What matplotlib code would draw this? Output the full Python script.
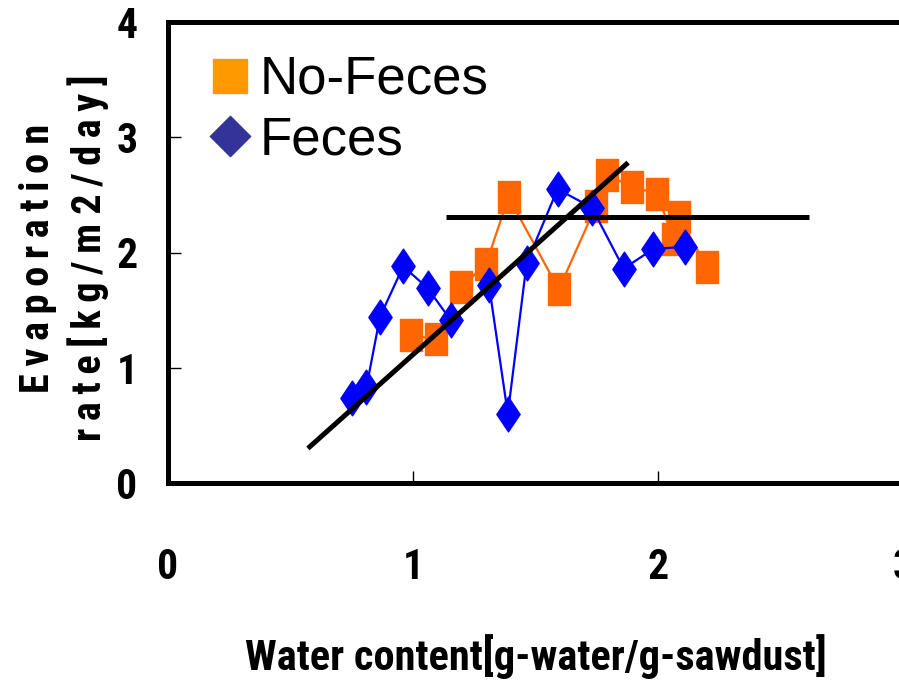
import matplotlib
matplotlib.use("Agg")
import matplotlib.pyplot as plt
from matplotlib.path import Path
from matplotlib.lines import Line2D

plt.rcParams['font.family'] = ['Roboto Condensed', 'Archivo Narrow', 'Fira Sans Condensed', 'DejaVu Sans']

# No-Feces run
nofeces_x = [0.99, 1.094, 1.196, 1.298, 1.39, 1.595, 1.746, 1.793, 1.894, 1.996, 2.063, 2.087, 2.20]
nofeces_y = [1.28, 1.25, 1.70, 1.90, 2.48, 1.68, 2.40, 2.67, 2.57, 2.51, 2.12, 2.31, 1.87]

# Feces run
feces_x = [0.75, 0.81, 0.865, 0.96, 1.06, 1.155, 1.31, 1.387, 1.464, 1.59, 1.73, 1.86, 1.98, 2.11]
feces_y = [0.74, 0.83, 1.44, 1.88, 1.69, 1.41, 1.72, 0.60, 1.91, 2.55, 2.39, 1.86, 2.03, 2.05]

# trend lines
rise_x = [0.571, 1.878]
rise_y = [0.30, 2.78]
flat_x = [1.135, 2.616]
flat_y = [2.31, 2.31]

# tall markers (the plot area is stretched vertically)
tall_square = Path([(-0.71, -1), (0.71, -1), (0.71, 1), (-0.71, 1), (-0.71, -1)], closed=True)
tall_diamond = Path([(0, -1), (0.67, 0), (0, 1), (-0.67, 0), (0, -1)], closed=True)
square = Path([(-1, -1), (1, -1), (1, 1), (-1, 1), (-1, -1)], closed=True)
diamond = Path([(0, -1), (1, 0), (0, 1), (-1, 0), (0, -1)], closed=True)

fig = plt.figure(figsize=(8.99, 6.90), dpi=100)
ax = fig.add_axes([168 / 899, (690 - 483) / 690, (903 - 168) / 899, (483 - 22) / 690])

ax.plot(nofeces_x, nofeces_y, color='#FF6600', lw=1.6, marker=tall_square,
        markersize=22.5, markerfacecolor='#FF6600', markeredgecolor='#FF6600', zorder=2)
ax.plot(feces_x, feces_y, color='#0000FF', lw=1.6, marker=tall_diamond,
        markersize=25, markerfacecolor='#0000FF', markeredgecolor='#0000FF', zorder=3)
ax.plot(rise_x, rise_y, color='black', lw=3.6, solid_capstyle='butt', zorder=4)
ax.plot(flat_x, flat_y, color='black', lw=3.6, solid_capstyle='butt', zorder=4)

ax.set_xlim(0, 3)
ax.set_ylim(0, 4)
ax.set_xticks([0, 1, 2, 3])
ax.set_yticks([0, 1, 2, 3, 4])

for s in ax.spines.values():
    s.set_linewidth(3.6)

ax.tick_params(direction='in', length=9, width=1, labelsize=30)
ax.tick_params(axis='x', pad=46)
ax.tick_params(axis='y', pad=22)
for lab in ax.get_xticklabels() + ax.get_yticklabels():
    lab.set_fontweight('bold')

ax.set_xlabel('Water content[g-water/g-sawdust]', fontsize=30.5, fontweight='bold', labelpad=33)
ts = '\u2009'
line1 = ts.join('Evaporatio') + ' n'
line2 = ts.join('rate[kg/m') + ' ' + ts.join('2/day]')
fig.text(0.071, (690 - 258) / 690, line1 + '\n' + line2, rotation=90, ha='center', va='center',
         fontsize=29, fontweight='bold', linespacing=1.3, multialignment='center')

handles = [
    Line2D([], [], ls='none', marker=square, markersize=25, color='#FF9900'),
    Line2D([], [], ls='none', marker=diamond, markersize=29, color='#333399'),
]
leg = ax.legend(handles, ['No-Feces', 'Feces'], loc='upper left',
                bbox_to_anchor=(212 / 899, (690 - 55) / 690), bbox_transform=fig.transFigure,
                frameon=False, handlelength=0.7, handletextpad=0.2, labelspacing=0.2,
                borderpad=0, borderaxespad=0,
                prop={'family': ['Liberation Sans', 'DejaVu Sans'], 'size': 38})

fig.savefig('out.png', dpi=100)
